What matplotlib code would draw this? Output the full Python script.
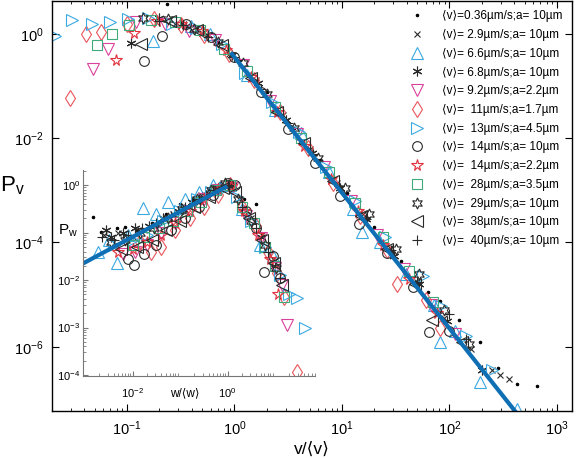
import numpy as np
import matplotlib.pyplot as plt
from matplotlib.ticker import FixedLocator, NullLocator, LogLocator, NullFormatter

plt.rcParams['font.family'] = ['Liberation Sans', 'DejaVu Sans']
plt.rcParams['mathtext.fontset'] = 'custom'
plt.rcParams['mathtext.rm'] = 'Liberation Sans'
plt.rcParams['mathtext.it'] = 'Liberation Sans:italic'

# legend labels
labels = [
    '⟨v⟩=0.36µm/s;a= 10µm',
    '⟨v⟩= 2.9µm/s;a= 10µm',
    '⟨v⟩= 6.6µm/s;a= 10µm',
    '⟨v⟩= 6.8µm/s;a= 10µm',
    '⟨v⟩= 9.2µm/s;a=2.2µm',
    '⟨v⟩=  11µm/s;a=1.7µm',
    '⟨v⟩=  13µm/s;a=4.5µm',
    '⟨v⟩=  14µm/s;a= 10µm',
    '⟨v⟩=  14µm/s;a=2.2µm',
    '⟨v⟩=  28µm/s;a=3.5µm',
    '⟨v⟩=  29µm/s;a= 10µm',
    '⟨v⟩=  38µm/s;a= 10µm',
    '⟨v⟩=  40µm/s;a= 10µm',
]

# main panel: log10(v/<v>) and log10(P_v)
lv_00 = [-0.63, -0.5, -0.35, -0.15, 0.05, 0.3, 0.55, 0.8, 1.05, 1.3, 1.55, 1.8, 1.91, 2.09, 2.28, 2.45, 2.63, 2.81]
lp_00 = [0.58, 0.22, 0.1, -0.15, -0.5, -1.12, -1.8, -2.42, -3.05, -3.7, -4.35, -4.95, -5.13, -5.48, -5.9, -6.4, -6.71, -6.75]
lv_01 = [-0.55, -0.3, -0.05, 0.2, 0.45, 0.7, 0.95, 1.2, 1.45, 1.7, 1.95, 2.2, 2.4, 2.47, 2.55]
lp_01 = [0.2, 0.02, -0.38, -0.88, -1.55, -2.2, -2.85, -3.45, -4.1, -4.75, -5.45, -6.05, -6.45, -6.54, -6.62]
lv_02 = [-0.76, -0.4, -0.23, 0.12, 0.38, 0.62, 0.88, 1.1, 1.19, 1.35, 1.6, 1.86, 1.91, 2.05, 2.28, 2.63]
lp_02 = [-0.13, 0.15, 0.0, -0.78, -1.45, -1.9, -2.65, -3.35, -3.79, -4.0, -4.6, -5.2, -5.9, -5.7, -6.67, -7.19]
lv_03 = [-0.96, -0.7, -0.45, -0.25, -0.02, 0.22, 0.48, 0.72, 0.98, 1.22, 1.48, 1.72, 1.98, 2.3]
lp_03 = [-0.17, 0.3, 0.15, -0.02, -0.4, -0.95, -1.65, -2.28, -2.95, -3.55, -4.25, -4.8, -5.5, -6.45]
lv_04 = [-1.32, -1.18, -0.92, -0.65, -0.42, -0.18, 0.08, 0.33, 0.58, 0.83, 1.08, 1.33, 1.58, 1.83, 2.05]
lp_04 = [-0.67, -0.29, 0.22, 0.2, 0.05, -0.12, -0.6, -1.28, -1.92, -2.55, -3.2, -3.85, -4.5, -5.2, -5.75]
lv_05 = [-1.53, -1.38, -1.24, -1.0, -0.75, -0.5, -0.28, -0.05, 0.18, 0.42, 0.68, 0.92, 1.17, 1.42, 1.51, 1.78, 1.91]
lp_05 = [-1.23, 0.0, 0.04, 0.2, 0.28, 0.18, -0.02, -0.38, -0.88, -1.5, -2.18, -2.85, -3.5, -4.15, -4.8, -5.1, -5.65]
lv_06 = [-1.67, -1.51, -1.33, -1.16, -0.99, -0.8, -0.58, -0.36, -0.12, 0.1, 0.35, 0.6, 0.85, 1.12, 1.4, 1.75, 1.92, 2.15, 2.4]
lp_06 = [-0.04, 0.27, 0.19, 0.23, 0.29, 0.3, 0.2, 0.12, -0.2, -0.75, -1.3, -1.88, -2.55, -3.2, -3.9, -4.65, -5.22, -5.8, -6.45]
lv_07 = [-0.84, -0.67, -0.45, -0.22, 0.0, 0.25, 0.5, 0.75, 0.98, 1.16, 1.42, 1.66, 1.81, 2.0]
lp_07 = [-0.52, -0.04, 0.2, -0.05, -0.45, -1.12, -1.82, -2.48, -3.1, -3.65, -4.2, -4.85, -5.71, -5.7]
lv_08 = [-1.1, -0.93, -0.72, -0.5, -0.3, -0.08, 0.15, 0.4, 0.65, 0.9, 1.15, 1.38, 1.62, 1.88]
lp_08 = [-0.5, 0.02, 0.24, 0.2, 0.05, -0.3, -0.82, -1.5, -2.15, -2.78, -3.4, -4.05, -4.7, -5.35]
lv_09 = [-1.28, -1.14, -0.98, -0.78, -0.55, -0.32, -0.1, 0.12, 0.38, 0.62, 0.88, 1.12, 1.38, 1.62, 1.85]
lp_09 = [-0.21, 0.0, 0.18, 0.26, 0.22, 0.08, -0.28, -0.72, -1.4, -2.0, -2.65, -3.25, -3.9, -4.55, -5.15]
lv_10 = [-0.85, -0.62, -0.38, -0.15, 0.08, 0.3, 0.55, 0.78, 1.03, 1.25, 1.5, 1.72, 1.95, 2.18]
lp_10 = [0.3, 0.28, 0.1, -0.15, -0.55, -1.15, -1.8, -2.38, -2.95, -3.45, -4.12, -4.6, -5.3, -5.95]
lv_11 = [-0.87, -0.6, -0.35, -0.12, 0.15, 0.4, 0.65, 0.92, 1.18, 1.42, 1.68, 1.84, 2.12]
lp_11 = [-0.19, 0.25, 0.08, -0.22, -0.85, -1.5, -2.1, -2.82, -3.5, -4.12, -4.8, -5.48, -5.9]
lv_12 = [-0.7, -0.48, -0.25, 0.0, 0.25, 0.5, 0.73, 0.97, 1.22, 1.46, 1.7, 2.0, 2.15]
lp_12 = [0.25, 0.18, -0.05, -0.45, -1.05, -1.7, -2.3, -2.92, -3.55, -4.15, -4.75, -5.37, -5.85]

# inset: log10(w/<w>) and log10(P_w)
lw_00 = [-2.84, -2.67, -2.32, -2.15, -1.9, -1.6, -1.3, -1.0, -0.7, -0.4, -0.15, 0.1, 0.35, 0.6]
lq_00 = [-0.67, -0.99, -0.9, -0.88, -0.95, -0.8, -0.6, -0.4, -0.3, -0.1, 0.05, 0.0, -0.3, -0.4]
lw_01 = [-2.6, -2.3, -2.0, -1.75, -1.45, -1.15, -0.85, -0.55, -0.25, 0.0, 0.25, 0.5, 0.72, 0.95]
lq_01 = [-1.05, -1.0, -1.1, -0.95, -0.85, -0.6, -0.45, -0.2, -0.05, 0.05, -0.3, -0.7, -1.05, -1.55]
lw_02 = [-2.72, -2.5, -2.32, -2.1, -1.77, -1.5, -1.26, -0.9, -0.6, -0.3, 0.05, 0.3, 0.69, 0.95]
lq_02 = [-1.41, -1.15, -1.64, -1.05, -0.48, -0.6, -0.36, -0.3, -0.15, 0.0, 0.0, -0.5, -1.26, -1.5]
lw_03 = [-2.55, -2.45, -2.2, -1.95, -1.65, -1.35, -1.05, -0.75, -0.45, -0.2, 0.1, 0.4, 0.7, 1.0]
lq_03 = [-0.95, -1.1, -1.0, -0.9, -0.85, -0.7, -0.55, -0.35, -0.2, -0.05, 0.0, -0.55, -1.1, -1.7]
lw_04 = [-2.2, -1.95, -1.7, -1.4, -1.1, -0.8, -0.5, -0.2, 0.1, 0.4, 0.7, 1.0, 1.15, 1.26]
lq_04 = [-1.45, -1.4, -1.25, -1.0, -0.8, -0.55, -0.3, -0.1, -0.05, -0.65, -1.12, -1.75, -2.1, -2.95]
lw_05 = [-1.85, -1.62, -1.4, -1.1, -0.8, -0.5, -0.2, 0.05, 0.3, 0.6, 0.85, 1.05, 1.2, 1.47]
lq_05 = [-1.2, -1.41, -1.3, -0.95, -0.7, -0.45, -0.2, 0.0, -0.45, -0.85, -1.4, -1.85, -2.35, -3.94]
lw_06 = [-2.4, -2.0, -1.7, -1.35, -1.0, -0.65, -0.35, -0.05, 0.2, 0.5, 0.8, 1.1, 1.3, 1.47, 1.64]
lq_06 = [-1.25, -1.15, -1.05, -0.75, -0.55, -0.3, -0.15, -0.05, -0.25, -0.75, -1.3, -1.9, -2.3, -2.38, -3.0]
lw_07 = [-2.1, -1.98, -1.75, -1.5, -1.2, -0.9, -0.6, -0.3, 0.0, 0.15, 0.4, 0.6, 0.76, 0.95, 1.1]
lq_07 = [-1.55, -1.68, -1.45, -1.25, -0.95, -0.7, -0.45, -0.2, 0.05, 0.0, -0.55, -0.9, -1.83, -1.5, -1.95]
lw_08 = [-2.3, -2.0, -1.7, -1.4, -1.1, -0.8, -0.5, -0.2, 0.08, 0.35, 0.65, 0.9, 1.07]
lq_08 = [-1.4, -1.35, -1.2, -1.05, -0.8, -0.55, -0.3, -0.08, -0.02, -0.55, -1.05, -1.55, -2.3]
lw_09 = [-2.0, -1.75, -1.45, -1.15, -0.85, -0.55, -0.25, 0.05, 0.3, 0.55, 0.8, 1.0, 1.18]
lq_09 = [-1.25, -1.1, -0.9, -0.75, -0.55, -0.35, -0.1, 0.0, -0.45, -0.8, -1.3, -1.7, -2.35]
lw_10 = [-2.45, -2.15, -1.85, -1.55, -1.25, -0.95, -0.65, -0.35, -0.05, 0.22, 0.5, 0.78, 1.02]
lq_10 = [-1.2, -1.15, -1.0, -0.9, -0.7, -0.5, -0.3, -0.1, 0.05, -0.3, -0.75, -1.25, -1.75]
lw_11 = [-2.25, -1.9, -1.6, -1.3, -1.0, -0.7, -0.4, -0.1, 0.15, 0.45, 0.72, 0.98, 1.15]
lq_11 = [-1.35, -1.3, -1.15, -0.95, -0.75, -0.45, -0.25, -0.05, -0.15, -0.7, -1.15, -1.65, -2.1]
lw_12 = [-2.65, -2.4, -2.1, -1.8, -1.5, -1.2, -0.9, -0.6, -0.3, 0.0, 0.3, 0.6, 0.85, 1.1]
lq_12 = [-1.1, -1.15, -1.05, -0.9, -0.8, -0.65, -0.45, -0.3, -0.1, 0.0, -0.45, -0.9, -1.4, -1.95]

# power-law fits (end points)
fit_v = [0.95, 480]
fit_pv = [0.41, 3.8e-8]
fit_w = [8e-4, 0.91]
fit_pw = [0.021, 0.91]

main_sets = [(lv_00, lp_00), (lv_01, lp_01), (lv_02, lp_02), (lv_03, lp_03), (lv_04, lp_04),
             (lv_05, lp_05), (lv_06, lp_06), (lv_07, lp_07), (lv_08, lp_08), (lv_09, lp_09),
             (lv_10, lp_10), (lv_11, lp_11), (lv_12, lp_12)]
inset_sets = [(lw_00, lq_00), (lw_01, lq_01), (lw_02, lq_02), (lw_03, lq_03), (lw_04, lq_04),
              (lw_05, lq_05), (lw_06, lq_06), (lw_07, lq_07), (lw_08, lq_08), (lw_09, lq_09),
              (lw_10, lq_10), (lw_11, lq_11), (lw_12, lq_12)]

CYAN = '#3aa9e0'
MAG = '#d9419a'
RED = '#e8545a'
STAR = '#e0303c'
GREEN = '#3fa97a'
DARK = '#2a2a2a'
BLUE = '#0f6fb5'

# marker, colour, size
styles = [
    ('.', 'black', 3.5),
    ('x', DARK, 5),
    ('^', CYAN, 8),
    ((6, 2, 0), DARK, 7),
    ('v', MAG, 8),
    ('d', RED, 8),
    ('>', CYAN, 8),
    ('o', DARK, 7),
    ('*', STAR, 8.5),
    ('s', GREEN, 6.5),
    ((6, 1, 0), DARK, 8),
    ('<', DARK, 8),
    ('+', DARK, 7),
]

fig = plt.figure(figsize=(5.76, 4.58), dpi=100)
ax = fig.add_axes([0.090, 0.103, 0.903, 0.895])

handles = []
for (lx, ly), (mk, col, ms) in zip(main_sets, styles):
    x = 10 ** np.array(lx)
    y = 10 ** np.array(ly)
    h, = ax.plot(x, y, linestyle='none', marker=mk, ms=ms, mfc='none',
                 mec=col, mew=0.8, color=col)
    if mk == '.':
        h.set_markerfacecolor(col)
    handles.append(h)

ax.plot(fit_v, fit_pv, color=BLUE, lw=3)

ax.set_xscale('log')
ax.set_yscale('log')
ax.set_xlim(0.02, 1380)
ax.set_ylim(5.9e-8, 4.3)
ax.yaxis.set_major_locator(FixedLocator([1e-6, 1e-4, 1e-2, 1]))
ax.yaxis.set_minor_locator(NullLocator())
ax.xaxis.set_major_locator(LogLocator(base=10, numticks=12))
ax.xaxis.set_minor_locator(LogLocator(base=10, subs=np.arange(2, 10), numticks=12))
ax.xaxis.set_minor_formatter(NullFormatter())
ax.tick_params(which='both', direction='in', top=True, right=True)
ax.tick_params(which='major', length=5, labelsize=10.5, pad=6)
ax.tick_params(which='minor', length=2.5)
for s in ax.spines.values():
    s.set_linewidth(1.0)

ax.legend(handles, labels, loc='upper right', bbox_to_anchor=(1.0, 1.0), frameon=False,
          fontsize=8.5, handlelength=1.0, handletextpad=1.6, labelspacing=0.57,
          borderaxespad=0.4, numpoints=1)

fig.text(0.0, 1 - 186 / 458, r'$\mathregular{P_v}$', fontsize=16, va='center', ha='left')
fig.text(312 / 576, 1 - 449 / 458, 'v/⟨v⟩', fontsize=12.5, va='center', ha='center')

# inset
axin = fig.add_axes([0.144, 0.179, 0.403, 0.450])
axin.set_facecolor('none')
for (lx, ly), (mk, col, ms) in zip(inset_sets, styles):
    x = 10 ** np.array(lx)
    y = 10 ** np.array(ly)
    h, = axin.plot(x, y, linestyle='none', marker=mk, ms=ms, mfc='none',
                   mec=col, mew=0.8, color=col)
    if mk == '.':
        h.set_markerfacecolor(col)
axin.plot(fit_w, fit_pw, color=BLUE, lw=3)
axin.set_xscale('log')
axin.set_yscale('log')
axin.set_xlim(9e-4, 70)
axin.set_ylim(9.5e-5, 2.1)
axin.spines['top'].set_visible(False)
axin.spines['right'].set_visible(False)
for s in ('left', 'bottom'):
    axin.spines[s].set_color('#777777')
    axin.spines[s].set_linewidth(0.8)
axin.set_xticks([1e-2, 1])
axin.set_xticklabels([r'$10^{-2}$', r'$10^{0}$'])
axin.set_yticks([1e-4, 1e-3, 1e-2, 1e-1, 1])
axin.set_yticklabels([r'$10^{-4}$', r'$10^{-3}$', r'$10^{-2}$', '', r'$10^{0}$'])
axin.xaxis.set_minor_locator(LogLocator(base=10, subs=np.arange(2, 10), numticks=12))
axin.yaxis.set_minor_locator(LogLocator(base=10, subs=np.arange(2, 10), numticks=12))
axin.xaxis.set_minor_formatter(NullFormatter())
axin.yaxis.set_minor_formatter(NullFormatter())
axin.tick_params(which='both', direction='in', color='#777777', labelsize=8)
axin.tick_params(which='major', length=3.5)
axin.tick_params(which='minor', length=2)
axin.tick_params(axis='x', pad=7)
axin.tick_params(axis='y', pad=2)

fig.text(185 / 576, 1 - 393 / 458, 'w/⟨w⟩', fontsize=8.5, va='center', ha='center')
fig.text(58 / 576, 1 - 231 / 458, r'$\mathregular{P_w}$', fontsize=11, va='center', ha='left')

fig.savefig('out.png', dpi=100)
